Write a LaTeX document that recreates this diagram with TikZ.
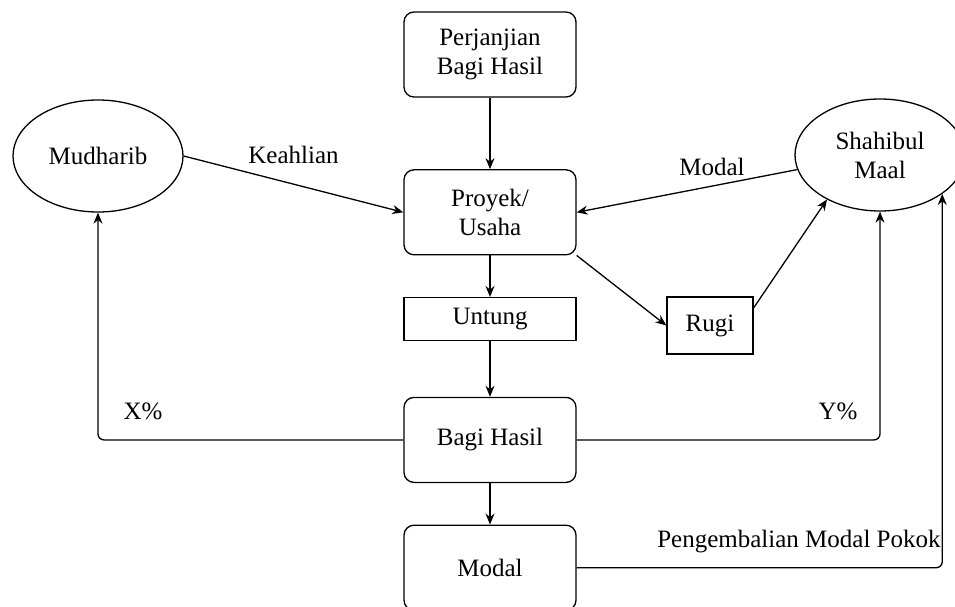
\documentclass[tikz,border=0pt]{standalone}
\usepackage{fontspec}
\setmainfont{Liberation Serif}
\newfontfamily\diagfont{Liberation Serif}
\usetikzlibrary{positioning,shapes.geometric,arrows.meta}

\tikzset{
  rbox/.style={draw, rounded corners=10pt, minimum width=172pt, minimum height=85pt, inner sep=0pt, align=center},
  sbox/.style={draw, minimum width=172pt, minimum height=43pt, inner sep=0pt},
  actor/.style={draw, ellipse, minimum width=170pt, minimum height=112pt, inner sep=0pt, align=center},
  flow/.style={-{Stealth[length=11pt,width=9pt]}},
}

\begin{document}
\begin{tikzpicture}[x=1pt, y=1pt, line width=1.3pt, font=\diagfont\fontsize{25}{29}\selectfont]
  \useasboundingbox (0,0) rectangle (955,-607);
  \node[rbox] (perjanjian) at (490,-54.5) {Perjanjian\\Bagi Hasil};
  \node[rbox, below=71.5pt of perjanjian] (proyek) {Proyek/\\Usaha};
  \node[sbox, below=41.5pt of proyek] (untung) {Untung};
  \node[rbox, below=55.5pt of untung] (bagi) {Bagi Hasil};
  \node[rbox, below=41.5pt of bagi] (modal) {Modal};
  \node[draw, minimum width=86pt, minimum height=57pt, inner sep=0pt] (rugi) at (710,-325.5) {Rugi};
  \node[actor] (mudharib) at (98,-156) {Mudharib};
  \node[actor] (shahibul) at (880,-155) {Shahibul\\Maal};

  \draw[flow] (perjanjian) -- (proyek);
  \draw[flow] (mudharib.east) -- node[midway, yshift=29pt] {Keahlian} (proyek.west);
  \draw[flow] (shahibul.190) -- node[midway, xshift=25pt, yshift=24pt] {Modal} (proyek.east);
  \draw[flow] (proyek) -- (untung);
  \draw[flow] (untung) -- (bagi);
  \draw[flow] (bagi) -- (modal);
  \draw[flow] (proyek.south east) -- (rugi.west);
  \draw[flow] (rugi.22) -- (shahibul.220);
  \draw[flow, rounded corners=6pt] (bagi.west) -| node[pos=0.5, xshift=45pt, yshift=29pt] {X\%} (mudharib.south);
  \draw[flow, rounded corners=6pt] (bagi.east) -| node[pos=0.5, xshift=-42pt, yshift=29pt] {Y\%} (shahibul.south);
  \draw[flow, rounded corners=6pt] (modal.east) -| node[pos=0.5, anchor=base east, xshift=-1pt, yshift=20pt, inner sep=0pt] {Pengembalian Modal Pokok} (shahibul.328);
\end{tikzpicture}
\end{document}
